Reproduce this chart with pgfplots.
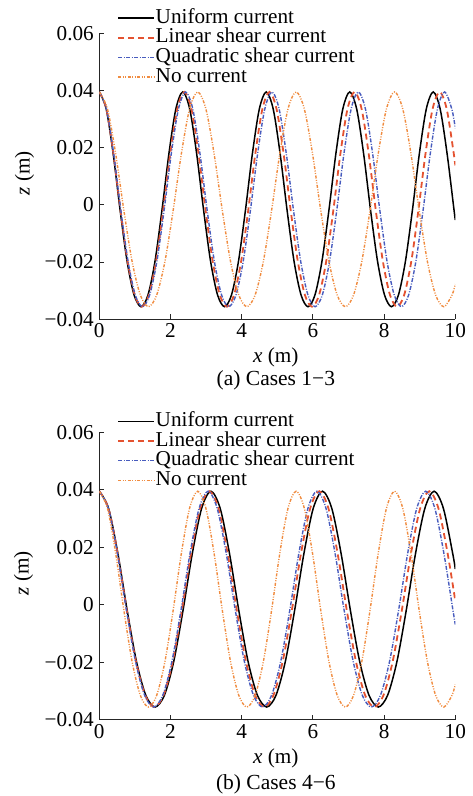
\documentclass[border=0pt]{standalone}
\usepackage{fontspec}
\setmainfont{Liberation Serif}
\usepackage{pgfplots}
\pgfplotsset{compat=1.18}
\definecolor{cred}{RGB}{228,82,48}
\definecolor{cblue}{RGB}{72,92,190}
\definecolor{corange}{RGB}{240,140,64}
\newcommand{\fs}{\fontsize{21.2}{25}\selectfont}
\pgfplotsset{
 wave/.style={
  scale only axis, width=356pt,
  xmin=0,xmax=10, ymin=-0.04,ymax=0.06,
  scaled y ticks=false, scaled x ticks=false,
  clip mode=individual,
  axis lines=left, axis line style={-, line width=1.2pt, black!85},
  tick align=inside, major tick length=5pt, tick style={line width=1.1pt, black!85},
  xtick={0,2,4,6,8,10}, xticklabels={0,2,4,6,8,10},
  ytick={-0.04,-0.02,0,0.02,0.04,0.06}, yticklabels={−0.04,−0.02,0,0.02,0.04,0.06},
  tick label style={font=\fs},
  xticklabel style={yshift=-1pt},
  yticklabel style={xshift=-2pt},
  label style={font=\fs},
  xlabel={\textit{x} (m)}, ylabel={\textit{z} (m)},
  legend style={draw=none, fill=none, inner sep=0pt, outer sep=0pt, font=\fs, anchor=north west,
    nodes={inner sep=0.8pt, text height=14pt, text depth=4pt}, row sep=0pt},
  legend cell align=left,
  legend image code/.code={\draw[#1] (0pt,0pt) -- (36pt,0pt);},
  every axis plot/.append style={smooth, mark=none},
 },
 sU/.style={black, line width=1.5pt, solid},
 sL/.style={cred, line width=1.8pt, dash pattern=on 6pt off 4pt},
 sQ/.style={cblue, line width=1.4pt, dash pattern=on 4pt off 1.5pt on 1pt off 1.5pt},
 sN/.style={corange, line width=1.4pt, dash pattern=on 3pt off 1.5pt on 1pt off 1.5pt on 1pt off 1.5pt},
}
\begin{document}
\begin{tikzpicture}
\useasboundingbox (0pt,0pt) rectangle (472pt,796pt);
% ---------------- panel (a)
\begin{axis}[wave, height=286pt, at={(99.3pt,476.7pt)}, anchor=south west,
  xlabel style={at={(axis description cs:0.496,-0.132)}, anchor=center},
  ylabel style={at={(axis description cs:-0.21,0.511)}, anchor=center},
  legend style={at={(axis description cs:0.05,1.087)}}]
\addplot[sU] coordinates {
(0,0.0395) (0.1954,0.0335) (0.3908,0.0178) (0.5863,-0.0020) (0.7817,-0.0198) (0.9771,-0.0315) (1.1725,-0.0356) (1.3679,-0.0315) (1.5633,-0.0198) (1.7588,-0.0020) (1.9542,0.0178) (2.1496,0.0335)
(2.345,0.0395) (2.5404,0.0335) (2.7358,0.0178) (2.9313,-0.0020) (3.1267,-0.0198) (3.3221,-0.0315) (3.5175,-0.0356) (3.7129,-0.0315) (3.9083,-0.0198) (4.1038,-0.0020) (4.2992,0.0178) (4.4946,0.0335)
(4.69,0.0395) (4.8854,0.0335) (5.0808,0.0178) (5.2763,-0.0020) (5.4717,-0.0198) (5.6671,-0.0315) (5.8625,-0.0356) (6.0579,-0.0315) (6.2533,-0.0198) (6.4488,-0.0020) (6.6442,0.0178) (6.8396,0.0335)
(7.035,0.0395) (7.2304,0.0335) (7.4258,0.0178) (7.6213,-0.0020) (7.8167,-0.0198) (8.0121,-0.0315) (8.2075,-0.0356) (8.4029,-0.0315) (8.5983,-0.0198) (8.7938,-0.0020) (8.9892,0.0178) (9.1846,0.0335)
(9.38,0.0395) (9.5754,0.0335) (9.7708,0.0178) (9.9663,-0.0020) (10,-0.0053)};
\addlegendentry{Uniform current}
\addplot[sL] coordinates {
(0,0.0395) (0.1992,0.0335) (0.3983,0.0178) (0.5975,-0.0020) (0.7967,-0.0198) (0.9958,-0.0315) (1.195,-0.0356) (1.3942,-0.0315) (1.5933,-0.0198) (1.7925,-0.0020) (1.9917,0.0178) (2.1908,0.0335)
(2.39,0.0395) (2.5892,0.0335) (2.7883,0.0178) (2.9875,-0.0020) (3.1867,-0.0198) (3.3858,-0.0315) (3.585,-0.0356) (3.7842,-0.0315) (3.9833,-0.0198) (4.1825,-0.0020) (4.3817,0.0178) (4.5808,0.0335)
(4.78,0.0395) (4.9792,0.0335) (5.1783,0.0178) (5.3775,-0.0020) (5.5767,-0.0198) (5.7758,-0.0315) (5.975,-0.0356) (6.1742,-0.0315) (6.3733,-0.0198) (6.5725,-0.0020) (6.7717,0.0178) (6.9708,0.0335)
(7.17,0.0395) (7.3692,0.0335) (7.5683,0.0178) (7.7675,-0.0020) (7.9667,-0.0198) (8.1658,-0.0315) (8.365,-0.0356) (8.5642,-0.0315) (8.7633,-0.0198) (8.9625,-0.0020) (9.1617,0.0178) (9.3608,0.0335)
(9.56,0.0395) (9.7592,0.0335) (9.9583,0.0178) (10,0.0138)};
\addlegendentry{Linear shear current}
\addplot[sQ] coordinates {
(0,0.0395) (0.2021,0.0335) (0.4042,0.0178) (0.6063,-0.0020) (0.8083,-0.0198) (1.0104,-0.0315) (1.2125,-0.0356) (1.4146,-0.0315) (1.6167,-0.0198) (1.8188,-0.0020) (2.0208,0.0178) (2.2229,0.0335)
(2.425,0.0395) (2.6271,0.0335) (2.8292,0.0178) (3.0313,-0.0020) (3.2333,-0.0198) (3.4354,-0.0315) (3.6375,-0.0356) (3.8396,-0.0315) (4.0417,-0.0198) (4.2438,-0.0020) (4.4458,0.0178) (4.6479,0.0335)
(4.85,0.0395) (5.0521,0.0335) (5.2542,0.0178) (5.4563,-0.0020) (5.6583,-0.0198) (5.8604,-0.0315) (6.0625,-0.0356) (6.2646,-0.0315) (6.4667,-0.0198) (6.6688,-0.0020) (6.8708,0.0178) (7.0729,0.0335)
(7.275,0.0395) (7.4771,0.0335) (7.6792,0.0178) (7.8813,-0.0020) (8.0833,-0.0198) (8.2854,-0.0315) (8.4875,-0.0356) (8.6896,-0.0315) (8.8917,-0.0198) (9.0938,-0.0020) (9.2958,0.0178) (9.4979,0.0335)
(9.70,0.0395) (9.9021,0.0335) (10,0.0268)};
\addlegendentry{Quadratic shear current}
\addplot[sN] coordinates {
(0,0.0395) (0.2304,0.0335) (0.4608,0.0178) (0.6913,-0.0020) (0.9217,-0.0198) (1.1521,-0.0315) (1.3825,-0.0356) (1.6129,-0.0315) (1.8433,-0.0198) (2.0738,-0.0020) (2.3042,0.0178) (2.5346,0.0335)
(2.765,0.0395) (2.9954,0.0335) (3.2258,0.0178) (3.4563,-0.0020) (3.6867,-0.0198) (3.9171,-0.0315) (4.1475,-0.0356) (4.3779,-0.0315) (4.6083,-0.0198) (4.8388,-0.0020) (5.0692,0.0178) (5.2996,0.0335)
(5.53,0.0395) (5.7604,0.0335) (5.9908,0.0178) (6.2213,-0.0020) (6.4517,-0.0198) (6.6821,-0.0315) (6.9125,-0.0356) (7.1429,-0.0315) (7.3733,-0.0198) (7.6038,-0.0020) (7.8342,0.0178) (8.0646,0.0335)
(8.295,0.0395) (8.5254,0.0335) (8.7558,0.0178) (8.9863,-0.0020) (9.2167,-0.0198) (9.4471,-0.0315) (9.6775,-0.0356) (9.9079,-0.0315) (10,-0.0277)};
\addlegendentry{No current}
\node[font=\fontsize{21.5}{25}\selectfont] at (axis description cs:0.496,-0.212) {(a) Cases 1−3};
\end{axis}
% ---------------- panel (b)
\begin{axis}[wave, height=287.4pt, at={(99.3pt,76.3pt)}, anchor=south west,
  xlabel style={at={(axis description cs:0.496,-0.133)}, anchor=center},
  ylabel style={at={(axis description cs:-0.213,0.51)}, anchor=center},
  legend style={at={(axis description cs:0.05,1.072)}}]
\addplot[sU] coordinates {
(0,0.0395) (0.2613,0.0335) (0.5225,0.0178) (0.7838,-0.0020) (1.045,-0.0198) (1.3063,-0.0315) (1.5675,-0.0356) (1.8288,-0.0315) (2.09,-0.0198) (2.3513,-0.0020) (2.6125,0.0178) (2.8738,0.0335)
(3.135,0.0395) (3.3963,0.0335) (3.6575,0.0178) (3.9188,-0.0020) (4.18,-0.0198) (4.4413,-0.0315) (4.7025,-0.0356) (4.9638,-0.0315) (5.225,-0.0198) (5.4863,-0.0020) (5.7475,0.0178) (6.0088,0.0335)
(6.27,0.0395) (6.5313,0.0335) (6.7925,0.0178) (7.0538,-0.0020) (7.315,-0.0198) (7.5763,-0.0315) (7.8375,-0.0356) (8.0988,-0.0315) (8.36,-0.0198) (8.6213,-0.0020) (8.8825,0.0178) (9.1438,0.0335)
(9.405,0.0395) (9.6663,0.0335) (9.9275,0.0178) (10,0.0124)};
\addlegendentry{Uniform current}
\addplot[sL] coordinates {
(0,0.0395) (0.2575,0.0335) (0.515,0.0178) (0.7725,-0.0020) (1.03,-0.0198) (1.2875,-0.0315) (1.545,-0.0356) (1.8025,-0.0315) (2.06,-0.0198) (2.3175,-0.0020) (2.575,0.0178) (2.8325,0.0335)
(3.09,0.0395) (3.3475,0.0335) (3.605,0.0178) (3.8625,-0.0020) (4.12,-0.0198) (4.3775,-0.0315) (4.635,-0.0356) (4.8925,-0.0315) (5.15,-0.0198) (5.4075,-0.0020) (5.665,0.0178) (5.9225,0.0335)
(6.18,0.0395) (6.4375,0.0335) (6.695,0.0178) (6.9525,-0.0020) (7.21,-0.0198) (7.4675,-0.0315) (7.725,-0.0356) (7.9825,-0.0315) (8.24,-0.0198) (8.4975,-0.0020) (8.755,0.0178) (9.0125,0.0335)
(9.27,0.0395) (9.5275,0.0335) (9.785,0.0178) (10,0.0013)};
\addlegendentry{Linear shear current}
\addplot[sQ] coordinates {
(0,0.0395) (0.2548,0.0335) (0.5095,0.0178) (0.7643,-0.0020) (1.019,-0.0198) (1.2738,-0.0315) (1.5285,-0.0356) (1.7833,-0.0315) (2.038,-0.0198) (2.2928,-0.0020) (2.5475,0.0178) (2.8023,0.0335)
(3.057,0.0395) (3.3118,0.0335) (3.5665,0.0178) (3.8213,-0.0020) (4.076,-0.0198) (4.3308,-0.0315) (4.5855,-0.0356) (4.8403,-0.0315) (5.095,-0.0198) (5.3498,-0.0020) (5.6045,0.0178) (5.8593,0.0335)
(6.114,0.0395) (6.3688,0.0335) (6.6235,0.0178) (6.8783,-0.0020) (7.133,-0.0198) (7.3878,-0.0315) (7.6425,-0.0356) (7.8973,-0.0315) (8.152,-0.0198) (8.4068,-0.0020) (8.6615,0.0178) (8.9163,0.0335)
(9.171,0.0395) (9.4258,0.0335) (9.6805,0.0178) (9.9353,-0.0020) (10,-0.0069)};
\addlegendentry{Quadratic shear current}
\addplot[sN] coordinates {
(0,0.0395) (0.2304,0.0335) (0.4608,0.0178) (0.6913,-0.0020) (0.9217,-0.0198) (1.1521,-0.0315) (1.3825,-0.0356) (1.6129,-0.0315) (1.8433,-0.0198) (2.0738,-0.0020) (2.3042,0.0178) (2.5346,0.0335)
(2.765,0.0395) (2.9954,0.0335) (3.2258,0.0178) (3.4563,-0.0020) (3.6867,-0.0198) (3.9171,-0.0315) (4.1475,-0.0356) (4.3779,-0.0315) (4.6083,-0.0198) (4.8388,-0.0020) (5.0692,0.0178) (5.2996,0.0335)
(5.53,0.0395) (5.7604,0.0335) (5.9908,0.0178) (6.2213,-0.0020) (6.4517,-0.0198) (6.6821,-0.0315) (6.9125,-0.0356) (7.1429,-0.0315) (7.3733,-0.0198) (7.6038,-0.0020) (7.8342,0.0178) (8.0646,0.0335)
(8.295,0.0395) (8.5254,0.0335) (8.7558,0.0178) (8.9863,-0.0020) (9.2167,-0.0198) (9.4471,-0.0315) (9.6775,-0.0356) (9.9079,-0.0315) (10,-0.0277)};
\addlegendentry{No current}
\node[font=\fontsize{21.5}{25}\selectfont] at (axis description cs:0.496,-0.226) {(b) Cases 4−6};
\end{axis}
\end{tikzpicture}
\end{document}
